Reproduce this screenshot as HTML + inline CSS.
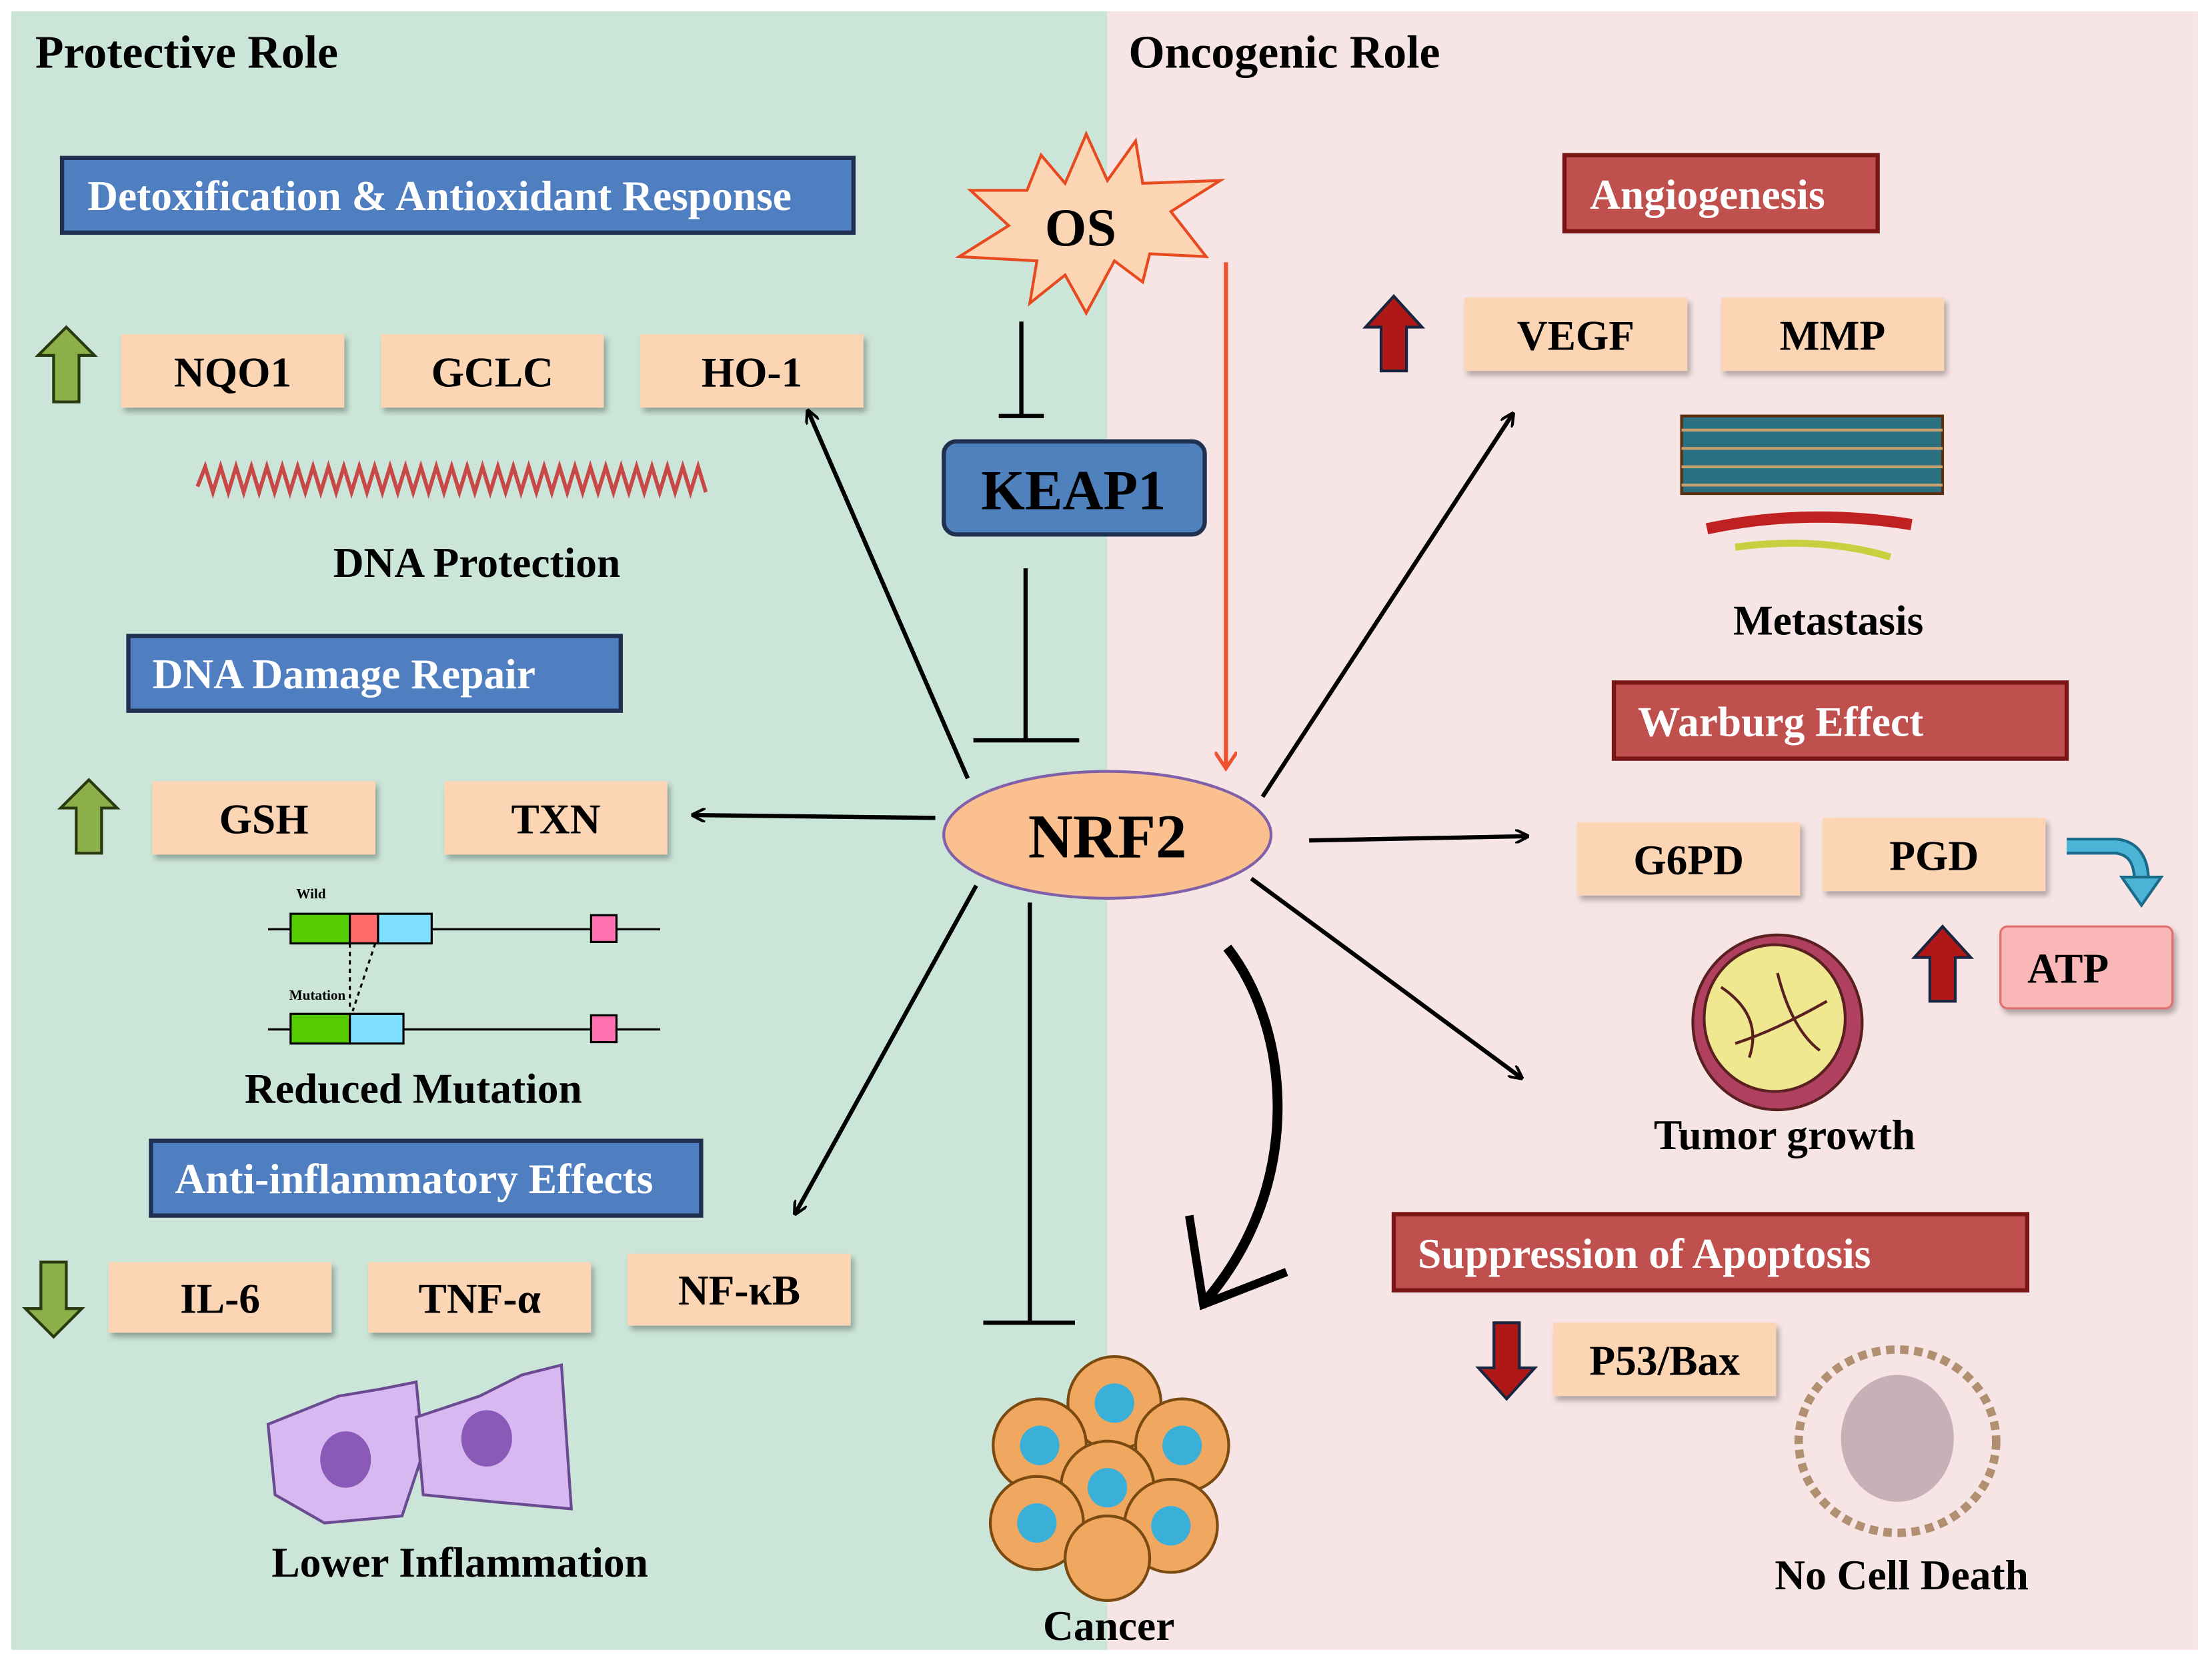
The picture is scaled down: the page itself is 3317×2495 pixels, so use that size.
<!DOCTYPE html>
<html><head><meta charset="utf-8"><style>
html,body{margin:0;padding:0;background:#fff}
svg{display:block}
text{font-family:"Liberation Serif",serif;font-weight:bold}
</style></head><body>
<svg width="3317" height="2495" viewBox="0 0 1568 1180" preserveAspectRatio="none" xmlns="http://www.w3.org/2000/svg">
<defs>
<marker id="ah" markerWidth="10" markerHeight="10" refX="8" refY="5" orient="auto" markerUnits="userSpaceOnUse" viewBox="0 0 10 10">
<path d="M0,0 L10,5 L0,10" fill="none" stroke="#000" stroke-width="2"/></marker>
<marker id="ar" markerWidth="14" markerHeight="16" refX="10" refY="8" orient="auto" markerUnits="userSpaceOnUse">
<path d="M0,0 L12,8 L0,16" fill="none" stroke="#f0512f" stroke-width="2.5"/></marker>
<filter id="sh" x="-10%" y="-10%" width="130%" height="140%"><feDropShadow dx="2" dy="3" stdDeviation="2" flood-color="#000" flood-opacity="0.3"/></filter>
</defs>
<rect x="8" y="8" width="777" height="1162" fill="#cbe5d8"/>
<rect x="785" y="8" width="773" height="1162" fill="#f7e5e5"/>
<text x="25" y="48" font-size="33">Protective Role</text>
<text x="800" y="48" font-size="33">Oncogenic Role</text>

<g fill="#4f7fc0" stroke="#1f3050" stroke-width="3">
<rect x="44" y="112" width="561" height="53"/>
<rect x="91" y="451" width="349" height="53"/>
<rect x="107" y="809" width="390" height="53"/>
</g>
<g fill="#fff" font-size="30">
<text x="62" y="149">Detoxification &amp; Antioxidant Response</text>
<text x="108" y="488">DNA Damage Repair</text>
<text x="124" y="846">Anti-inflammatory Effects</text>
</g>
<g fill="#c0504d" stroke="#7a1515" stroke-width="3">
<rect x="1109" y="110" width="222" height="54"/>
<rect x="1144" y="484" width="321" height="54"/>
<rect x="988" y="861" width="449" height="54"/>
</g>
<g fill="#fff" font-size="30">
<text x="1127" y="148">Angiogenesis</text>
<text x="1161" y="522">Warburg Effect</text>
<text x="1005" y="899">Suppression of Apoptosis</text>
</g>

<g fill="#fcd5b4" filter="url(#sh)">
<rect x="86" y="237" width="158" height="52"/><rect x="270" y="237" width="158" height="52"/><rect x="454" y="237" width="158" height="52"/>
<rect x="108" y="554" width="158" height="52"/><rect x="315" y="554" width="158" height="52"/>
<rect x="77" y="895" width="158" height="50"/><rect x="261" y="895" width="158" height="50"/><rect x="445" y="889" width="158" height="51"/>
<rect x="1038" y="211" width="158" height="52"/><rect x="1220" y="211" width="158" height="52"/>
<rect x="1118" y="583" width="158" height="52"/><rect x="1292" y="580" width="158" height="52"/>
<rect x="1101" y="938" width="158" height="52"/>
</g>
<rect x="1418" y="657" width="122" height="58" rx="5" fill="#f9b7b7" stroke="#e07070" stroke-width="1.5" filter="url(#sh)"/>
<g font-size="30" text-anchor="middle">
<text x="165" y="274">NQO1</text><text x="349" y="274">GCLC</text><text x="533" y="274">HO-1</text>
<text x="187" y="591">GSH</text><text x="394" y="591">TXN</text>
<text x="156" y="931">IL-6</text><text x="340" y="931">TNF-α</text><text x="524" y="925">NF-κB</text>
<text x="1117" y="248">VEGF</text><text x="1299" y="248">MMP</text>
<text x="1197" y="620">G6PD</text><text x="1371" y="617">PGD</text>
<text x="1180" y="975">P53/Bax</text>
<text x="1466" y="697">ATP</text>
</g>

<polygon points="770,95 785,128 805,100 810,130 865,128 830,150 855,182 815,180 810,200 790,185 770,222 755,195 730,215 735,185 680,182 715,160 688,135 728,135 738,110 755,130" fill="#fcd5b4" stroke="#e84a20" stroke-width="2"/>
<text x="766" y="174" font-size="38" text-anchor="middle">OS</text>

<rect x="669" y="313" width="185" height="66" rx="9" fill="#4f81bd" stroke="#1f3050" stroke-width="3"/>
<text x="761" y="361" font-size="40" text-anchor="middle">KEAP1</text>

<g stroke="#000" stroke-width="3">
<line x1="724" y1="228" x2="724" y2="295"/><line x1="708" y1="295" x2="740" y2="295"/>
<line x1="727" y1="403" x2="727" y2="525"/><line x1="690" y1="525" x2="765" y2="525"/>
<line x1="730" y1="640" x2="730" y2="938"/><line x1="697" y1="938" x2="762" y2="938"/>
</g>
<line x1="869" y1="186" x2="869" y2="543" stroke="#f0512f" stroke-width="3" marker-end="url(#ar)"/>

<g stroke="#000" stroke-width="3" fill="none" marker-end="url(#ah)">
<line x1="686" y1="552" x2="573" y2="292"/>
<line x1="663" y1="580" x2="492" y2="578"/>
<line x1="692" y1="628" x2="564" y2="860"/>
<line x1="895" y1="565" x2="1072" y2="294"/>
<line x1="928" y1="596" x2="1082" y2="593"/>
<line x1="887" y1="623" x2="1078" y2="764"/>
</g>
<path d="M870,672 C915,730 925,840 855,922" stroke="#000" stroke-width="7" fill="none"/>
<path d="M843,862 L853,925 L912,902" stroke="#000" stroke-width="6" fill="none"/>

<ellipse cx="785" cy="592" rx="116" ry="45" fill="#fac090" stroke="#8060a8" stroke-width="2"/>
<text x="785" y="608" font-size="44" text-anchor="middle">NRF2</text>

<g stroke="#2a3a10" stroke-width="2" fill="#8bb04a">
<polygon points="47,232 67,252 56,252 56,285 38,285 38,252 27,252"/>
<polygon points="63,553 83,573 72,573 72,605 54,605 54,573 43,573"/>
<polygon points="38,948 58,928 47,928 47,895 29,895 29,928 18,928"/>
</g>
<g stroke="#1a2540" stroke-width="2" fill="#b01818">
<polygon points="988,210 1008,232 997,232 997,263 979,263 979,232 968,232"/>
<polygon points="1377,657 1397,679 1386,679 1386,710 1368,710 1368,679 1357,679"/>
<polygon points="1068,992 1088,970 1077,970 1077,938 1059,938 1059,970 1048,970"/>
</g>
<path d="M1465,600 L1500,600 Q1518,602 1518,625" stroke="#1a6b8a" stroke-width="12" fill="none"/>
<path d="M1465,600 L1500,600 Q1518,602 1518,625" stroke="#4bb3d6" stroke-width="8" fill="none"/>
<polygon points="1504,622 1532,622 1518,642" fill="#4bb3d6" stroke="#1a6b8a" stroke-width="2"/>

<g transform="translate(140,0) scale(0.91,1) translate(-140,0)">
<path d="M140,345 l6,-14 l6,18 l6,-18 l6,18 l6,-18 l6,18 l6,-18 l6,18 l6,-18 l6,18 l6,-18 l6,18 l6,-18 l6,18 l6,-18 l6,18 l6,-18 l6,18 l6,-18 l6,18 l6,-18 l6,18 l6,-18 l6,18 l6,-18 l6,18 l6,-18 l6,18 l6,-18 l6,18 l6,-18 l6,18 l6,-18 l6,18 l6,-18 l6,18 l6,-18 l6,18 l6,-18 l6,18 l6,-18 l6,18 l6,-18 l6,18 l6,-18 l6,18 l6,-18 l6,18 l6,-18 l6,18 l6,-18 l6,18 l6,-18 l6,18 l6,-18 l6,18 l6,-18 l6,18 l6,-18 l6,18 l6,-18 l6,18 l6,-18 l6,18 l6,-18 l6,18" stroke="#c84848" stroke-width="3" fill="none"/>
</g>

<g stroke="#000" stroke-width="1.5">
<line x1="190" y1="659" x2="468" y2="659"/><line x1="190" y1="730" x2="468" y2="730"/>
<rect x="206" y="648" width="42" height="21" fill="#55cc00"/><rect x="248" y="648" width="20" height="21" fill="#ff6a6a"/><rect x="268" y="648" width="38" height="21" fill="#80e0ff"/>
<rect x="419" y="649" width="18" height="19" fill="#ff70b0"/>
<rect x="206" y="719" width="42" height="21" fill="#55cc00"/><rect x="248" y="719" width="38" height="21" fill="#80e0ff"/>
<rect x="419" y="720" width="18" height="19" fill="#ff70b0"/>
<line x1="248" y1="669" x2="248" y2="717" stroke-dasharray="3,3"/><line x1="266" y1="669" x2="250" y2="717" stroke-dasharray="3,3"/>
</g>
<text x="210" y="637" font-size="10" font-family="Liberation Sans" font-weight="normal">Wild</text>
<text x="205" y="709" font-size="10" font-family="Liberation Sans" font-weight="normal">Mutation</text>

<g fill="#d8b8f0" stroke="#6a4a90" stroke-width="2">
<path d="M190,1010 L240,990 L270,985 L295,980 L300,1030 L285,1075 L230,1080 L195,1060 Z"/>
<path d="M295,1005 L340,990 L370,975 L398,968 L405,1070 L350,1065 L300,1060 Z"/>
</g>
<g fill="#8a5ab8"><ellipse cx="245" cy="1035" rx="18" ry="20"/><ellipse cx="345" cy="1020" rx="18" ry="20"/></g>

<rect x="1192" y="295" width="185" height="55" fill="#2a7080" stroke="#5a3010" stroke-width="2"/>
<path d="M1192,305 h185 M1192,318 h185 M1192,331 h185 M1192,344 h185" stroke="#c8a070" stroke-width="2"/>
<path d="M1210,375 Q1280,360 1355,372" stroke="#c02020" stroke-width="8" fill="none"/>
<path d="M1230,388 Q1290,380 1340,395" stroke="#c8d040" stroke-width="5" fill="none"/>

<ellipse cx="1260" cy="725" rx="60" ry="62" fill="#b04060" stroke="#5a2020" stroke-width="2"/>
<ellipse cx="1258" cy="722" rx="50" ry="52" fill="#f0e890" stroke="#5a2020" stroke-width="2"/>
<path d="M1220,700 Q1250,720 1240,750 M1260,690 Q1270,730 1290,745 M1230,740 Q1260,730 1295,710" stroke="#5a2020" stroke-width="2" fill="none"/>

<ellipse cx="1345" cy="1022" rx="70" ry="65" fill="none" stroke="#b09070" stroke-width="6" stroke-dasharray="6,4"/>
<ellipse cx="1345" cy="1020" rx="40" ry="45" fill="#c8b0b8"/>

<g fill="#f0a860" stroke="#7a4a10" stroke-width="2">
<circle cx="790" cy="995" r="33"/><circle cx="737" cy="1025" r="33"/><circle cx="838" cy="1025" r="33"/>
<circle cx="785" cy="1055" r="33"/><circle cx="735" cy="1080" r="33"/><circle cx="830" cy="1082" r="33"/><circle cx="785" cy="1105" r="30"/>
</g>
<g fill="#3ab0d8"><circle cx="790" cy="995" r="14"/><circle cx="737" cy="1025" r="14"/><circle cx="838" cy="1025" r="14"/><circle cx="785" cy="1055" r="14"/><circle cx="735" cy="1080" r="14"/><circle cx="830" cy="1082" r="14"/></g>

<g font-size="30" text-anchor="middle">
<text x="338" y="409">DNA Protection</text>
<text x="293" y="782">Reduced Mutation</text>
<text x="326" y="1118">Lower Inflammation</text>
<text x="1296" y="450">Metastasis</text>
<text x="1265" y="815">Tumor growth</text>
<text x="1348" y="1127">No Cell Death</text>
<text x="786" y="1163">Cancer</text>
</g>
</svg>
</body></html>
